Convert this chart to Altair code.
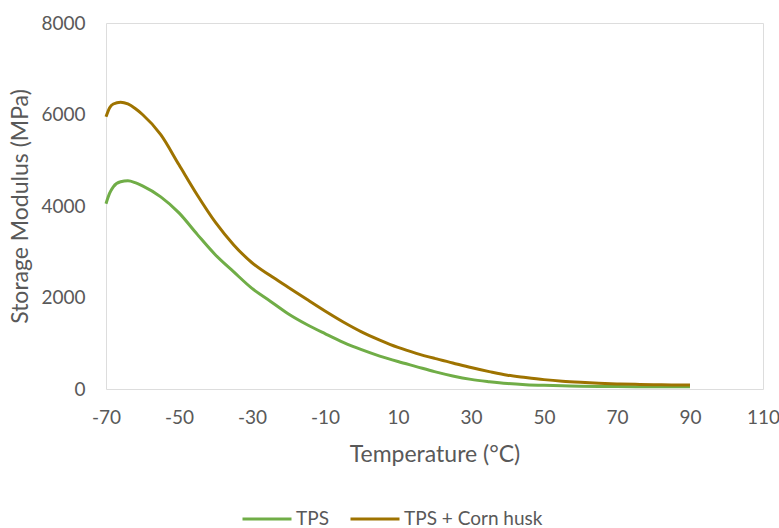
import altair as alt
import pandas as pd

temp_tps = [-70, -69, -68, -66, -64, -62, -60, -55, -50, -45, -40, -35, -30, -25, -20, -15, -10, -5, 0, 5, 10, 15, 20, 25, 30, 35, 40, 45, 50, 55, 60, 65, 70, 80, 90]
tps = [4050, 4280, 4420, 4530, 4550, 4510, 4440, 4200, 3850, 3380, 2930, 2560, 2200, 1920, 1640, 1410, 1210, 1020, 860, 720, 600, 490, 380, 285, 210, 160, 120, 95, 80, 70, 60, 55, 52, 50, 48]

temp_husk = [-70, -69, -68, -66, -64, -62, -60, -55, -50, -45, -40, -35, -30, -25, -20, -15, -10, -5, 0, 5, 10, 15, 20, 25, 30, 35, 40, 45, 50, 55, 60, 65, 70, 75, 80, 85, 90]
husk = [5950, 6150, 6230, 6270, 6230, 6130, 6000, 5560, 4900, 4240, 3640, 3150, 2760, 2480, 2220, 1960, 1705, 1465, 1250, 1070, 910, 780, 670, 570, 470, 380, 300, 250, 205, 170, 145, 125, 112, 102, 95, 90, 85]

series = ["TPS", "TPS + Corn husk"]
colors = ["#70AD47", "#9E7300"]
x_ticks = [-70, -50, -30, -10, 10, 30, 50, 70, 90, 110]
y_ticks = [0, 2000, 4000, 6000, 8000]

df = pd.concat([
    pd.DataFrame({"T": temp_tps, "E": tps, "s": series[0]}),
    pd.DataFrame({"T": temp_husk, "E": husk, "s": series[1]}),
])

font = "Lato"
grey = "#595959"
chart = alt.Chart(df).mark_line(strokeWidth=3, interpolate="monotone").encode(
    x=alt.X("T:Q", scale=alt.Scale(domain=[-70, 110], nice=False, zero=False),
            axis=alt.Axis(values=x_ticks, title="Temperature (°C)", grid=False, domain=False,
                          ticks=False, labelFlush=False, labelExpr="datum.value + ''",
                          labelPadding=19, titlePadding=16, labelFontSize=19,
                          titleFontSize=23, labelColor=grey, titleColor=grey,
                          titleFontWeight="normal", labelFont=font, titleFont=font)),
    y=alt.Y("E:Q", scale=alt.Scale(domain=[0, 8000], nice=False),
            axis=alt.Axis(values=y_ticks, title="Storage Modulus (MPa)", grid=False, domain=False,
                          ticks=False, labelFlush=False, labelExpr="datum.value + ''",
                          labelPadding=21, titlePadding=8, labelFontSize=19,
                          titleFontSize=23, labelColor=grey, titleColor=grey,
                          titleFontWeight="normal", labelFont=font, titleFont=font)),
    color=alt.Color("s:N", scale=alt.Scale(domain=series, range=colors),
                    legend=alt.Legend(title=None, orient="none", direction="horizontal",
                                      legendX=135, legendY=485, symbolType="stroke",
                                      symbolSize=2401, symbolStrokeWidth=3, labelFontSize=19,
                                      labelColor=grey, labelFont=font, columnPadding=20,
                                      labelOffset=3, clipHeight=22)),
    detail="s:N",
).properties(
    width=657, height=366,
    padding={"left": 106, "top": 23, "right": 16, "bottom": 139},
    autosize=alt.AutoSizeParams(type="none"),
).configure_view(stroke="#BFBFBF", strokeWidth=1.5).configure(background="white")

chart.save("out.html", embed_options={"renderer": "svg", "actions": False})
